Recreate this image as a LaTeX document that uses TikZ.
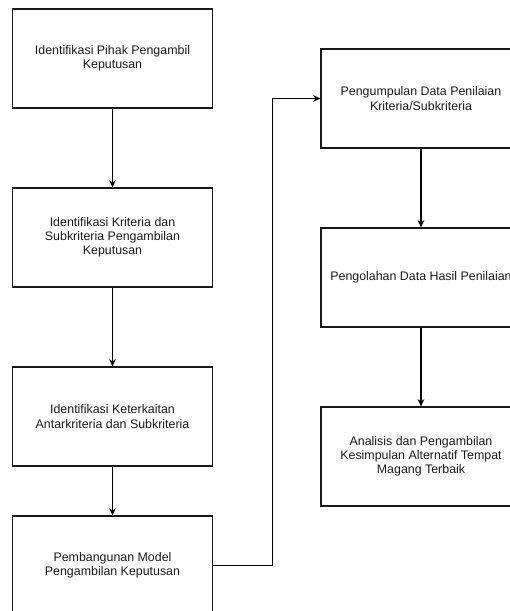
\documentclass[tikz,border=0pt]{standalone}
\usepackage{fontspec}
\setmainfont{Liberation Sans}
\usetikzlibrary{arrows.meta}

\begin{document}
\begin{tikzpicture}[x=0.75pt, y=-0.75pt,
    step box/.style={draw=black!90, line width=0.8pt, minimum width=150pt, minimum height=74.25pt,
        align=center, inner sep=0pt, text=black!90, font=\fontsize{9.3}{10.7}\selectfont},
    flow/.style={-{Stealth[length=5.5pt, width=5pt]}, line width=0.8pt}]
    \useasboundingbox (0,0) rectangle (510,611);
    \clip (0,0) rectangle (510,611);

    \begin{scope}
        \node[step box] (pihak) at (112.5,58.5) {Identifikasi Pihak Pengambil\\Keputusan};
        \node[step box] (kriteria) at (112.5,237.5) {Identifikasi Kriteria dan\\Subkriteria Pengambilan\\Keputusan};
        \node[step box] (keterkaitan) at (112.5,416.5) {Identifikasi Keterkaitan\\Antarkriteria dan Subkriteria};
        \node[step box] (model) at (112.5,565.5) {Pembangunan Model\\Pengambilan Keputusan};

        \draw[flow] (pihak) -- (kriteria);
        \draw[flow] (kriteria) -- (keterkaitan);
        \draw[flow] (keterkaitan) -- (model);
    \end{scope}

    \begin{scope}
        \node[step box] (pengumpulan) at (421,98.5) {Pengumpulan Data Penilaian\\Kriteria/Subkriteria};
        \node[step box] (pengolahan) at (421,277.5) {Pengolahan Data Hasil Penilaian};
        \node[step box] (analisis) at (421,456.5) {Analisis dan Pengambilan\\Kesimpulan Alternatif Tempat\\Magang Terbaik};

        \draw[flow] (pengumpulan) -- (pengolahan);
        \draw[flow] (pengolahan) -- (analisis);
    \end{scope}

    \draw[flow] (model.east) -- ++(59,0) |- (pengumpulan.west);
\end{tikzpicture}
\end{document}
